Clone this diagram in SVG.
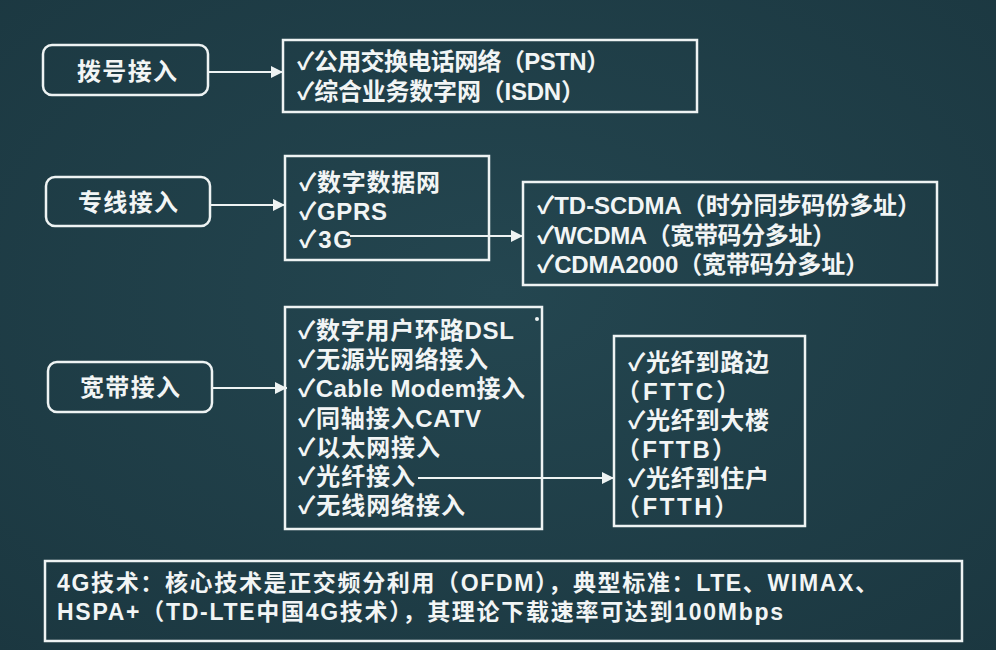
<svg xmlns="http://www.w3.org/2000/svg" width="996" height="650" viewBox="0 0 996 650">
<defs>
<radialGradient id="bg" cx="50%" cy="45%" r="75%">
<stop offset="0" stop-color="#244650"/>
<stop offset="1" stop-color="#1b3740"/>
</radialGradient>
<marker id="ah" viewBox="0 0 10 10" refX="10" refY="5" markerWidth="12" markerHeight="12" markerUnits="userSpaceOnUse" orient="auto">
<path d="M0,0 L10,5 L0,10 z" fill="#eef3f3"/>
</marker>
<style>
.bx{fill:none;stroke:#eef3f3;stroke-width:2.5}
.t{font-family:"Liberation Sans","Noto Sans CJK SC",sans-serif;font-weight:bold;font-size:24px;fill:#f2f5f5}
.b{font-family:"Liberation Sans","Noto Sans CJK SC",sans-serif;font-weight:bold;font-size:23px;fill:#f2f5f5}
.lb{font-family:"Noto Sans CJK SC","Liberation Sans",sans-serif;font-weight:bold;font-size:24px;fill:#f2f5f5;text-anchor:middle}
.c{stroke:#eef3f3;stroke-width:2.2;fill:none}
</style>
</defs>
<rect width="996" height="650" fill="url(#bg)"/>

<g id="n-dial">
<rect class="bx" x="43" y="45" width="165" height="50" rx="9"/>
<text class="lb" x="127" y="80" textLength="100" lengthAdjust="spacing">拨号接入</text>
</g>
<g id="n-dial-list">
<rect class="bx" x="283" y="40" width="414" height="72"/>
<text class="t" x="297" y="70" textLength="313" lengthAdjust="spacing">✓公用交换电话网络（PSTN）</text>
<text class="t" x="297" y="100" textLength="288" lengthAdjust="spacing">✓综合业务数字网（ISDN）</text>
</g>

<g id="n-leased">
<rect class="bx" x="46" y="177" width="164" height="49" rx="9"/>
<text class="lb" x="128" y="211" textLength="100" lengthAdjust="spacing">专线接入</text>
</g>
<g id="n-leased-list">
<rect class="bx" x="285" y="156" width="204" height="104"/>
<text class="t" x="299" y="191" textLength="141" lengthAdjust="spacing">✓数字数据网</text>
<text class="t" x="299" y="220" textLength="88" lengthAdjust="spacing">✓GPRS</text>
<text class="t" x="299" y="248" textLength="53" lengthAdjust="spacing">✓3G</text>
</g>
<g id="n-3g">
<rect class="bx" x="523" y="182" width="414" height="103"/>
<text class="t" x="537" y="214" textLength="384" lengthAdjust="spacing">✓TD-SCDMA（时分同步码份多址）</text>
<text class="t" x="537" y="244" textLength="299" lengthAdjust="spacing">✓WCDMA（宽带码分多址）</text>
<text class="t" x="537" y="273" textLength="332" lengthAdjust="spacing">✓CDMA2000（宽带码分多址）</text>
</g>

<g id="n-broadband">
<rect class="bx" x="48" y="362" width="164" height="50" rx="9"/>
<text class="lb" x="130" y="396" textLength="100" lengthAdjust="spacing">宽带接入</text>
</g>
<g id="n-broadband-list">
<rect class="bx" x="285" y="307" width="257" height="222"/>
<circle cx="537" cy="319" r="2" fill="#eef3f3"/>
<text class="t" x="298" y="339" textLength="216" lengthAdjust="spacing">✓数字用户环路DSL</text>
<text class="t" x="298" y="368" textLength="190" lengthAdjust="spacing">✓无源光网络接入</text>
<text class="t" x="298" y="397" textLength="227" lengthAdjust="spacing">✓Cable Modem接入</text>
<text class="t" x="298" y="427" textLength="183" lengthAdjust="spacing">✓同轴接入CATV</text>
<text class="t" x="298" y="456" textLength="142" lengthAdjust="spacing">✓以太网接入</text>
<text class="t" x="298" y="485" textLength="117" lengthAdjust="spacing">✓光纤接入</text>
<text class="t" x="298" y="514" textLength="167" lengthAdjust="spacing">✓无线网络接入</text>
</g>
<g id="n-fiber">
<rect class="bx" x="614" y="336" width="191" height="190"/>
<text class="t" x="628" y="371" textLength="141" lengthAdjust="spacing">✓光纤到路边</text>
<text class="t" x="616" y="400" textLength="124" lengthAdjust="spacing">（FTTC）</text>
<text class="t" x="628" y="429" textLength="141" lengthAdjust="spacing">✓光纤到大楼</text>
<text class="t" x="616" y="458" textLength="120" lengthAdjust="spacing">（FTTB）</text>
<text class="t" x="628" y="487" textLength="141" lengthAdjust="spacing">✓光纤到住户</text>
<text class="t" x="616" y="515" textLength="122" lengthAdjust="spacing">（FTTH）</text>
</g>

<g id="n-4g">
<rect class="bx" x="45" y="561" width="917" height="80"/>
<text class="b" x="57" y="591" textLength="821" lengthAdjust="spacing">4G技术：核心技术是正交频分利用（OFDM），典型标准：LTE、WIMAX、</text>
<text class="b" x="57" y="620" textLength="726" lengthAdjust="spacing">HSPA+（TD-LTE中国4G技术），其理论下载速率可达到100Mbps</text>
</g>

<g id="connectors">
<line class="c" x1="208" y1="72" x2="283" y2="72" marker-end="url(#ah)"/>
<line class="c" x1="210" y1="205" x2="285" y2="205" marker-end="url(#ah)"/>
<line class="c" x1="350" y1="236" x2="523" y2="236" marker-end="url(#ah)"/>
<line class="c" x1="212" y1="388" x2="287" y2="388" marker-end="url(#ah)"/>
<line class="c" x1="418" y1="478" x2="614" y2="478" marker-end="url(#ah)"/>
</g>
</svg>
